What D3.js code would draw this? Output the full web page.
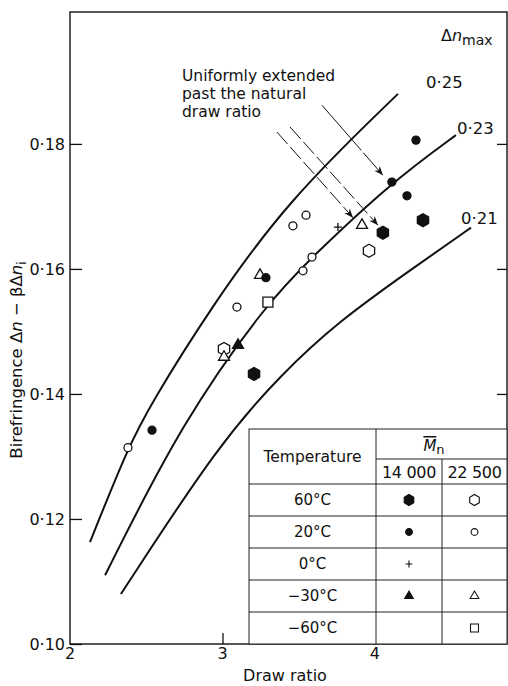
<!DOCTYPE html>
<html>
<head>
<meta charset="utf-8">
<script src="https://cdn.jsdelivr.net/npm/d3@7"></script>
<style>
  body { margin: 0; background: #fff; }
  svg text { font-family: "DejaVu Sans", sans-serif; fill: #111; }
</style>
</head>
<body>
<div id="chart"></div>
<script>
// axis ticks
var xTicks = [2, 3, 4];
var yTicks = [0.10, 0.12, 0.14, 0.16, 0.18];
var yTickLabels = ["0·10", "0·12", "0·14", "0·16", "0·18"];

// curves of constant max birefringence
var curveLabels = ["0·25", "0·23", "0·21"];
var curve25 = [[2.131, 0.1163], [2.380, 0.1314], [2.525, 0.1382], [2.925, 0.1539], [3.430, 0.1710], [4.151, 0.1880]];
var curve23 = [[2.230, 0.1110], [2.741, 0.1358], [3.298, 0.1547], [3.587, 0.1619], [4.111, 0.1739], [4.531, 0.1814]];
var curve21 = [[2.334, 0.1080], [2.984, 0.1323], [3.397, 0.1434], [3.751, 0.1514], [4.230, 0.1598], [4.630, 0.1666]];

// measured points, by temperature / Mn
var hexFilled = [[3.207, 0.1432], [4.052, 0.1658], [4.315, 0.1678]];          // 60C, 14000
var hexOpen = [[3.010, 0.1472], [3.961, 0.1629]];                              // 60C, 22500
var dotFilled = [[2.538, 0.1342], [3.285, 0.1586], [4.111, 0.1739], [4.210, 0.1717], [4.269, 0.1806]]; // 20C, 14000
var dotOpen = [[2.380, 0.1314], [3.095, 0.1539], [3.528, 0.1597], [3.587, 0.1619], [3.462, 0.1669], [3.548, 0.1686]]; // 20C, 22500
var plusPts = [[3.757, 0.1667]];                                               // 0C, 14000
var triFilled = [[3.102, 0.1478]];                                             // -30C, 14000
var triOpen = [[3.010, 0.1459], [3.246, 0.1590], [3.915, 0.1670]];            // -30C, 22500
var squareOpen = [[3.298, 0.1547]];                                            // -60C, 22500

// annotation arrows [from, to]
var arrows = [
    [[3.652, 0.1862], [4.052, 0.1750], "solid"],
    [[3.357, 0.1819], [3.856, 0.1682], "dash"],
    [[3.443, 0.1827], [4.020, 0.1670], "dash"]
];

// legend table
var tempLabels = ["60°C", "20°C", "0°C", "−30°C", "−60°C"];
var mnLabels = ["14 000", "22 500"];
var legendSymbols = [["hexFilled", "hexOpen"], ["dotFilled", "dotOpen"], ["plus", null], ["triFilled", "triOpen"], [null, "squareOpen"]];

var width = 508, height = 686;
var pL = 70, pR = 507, pT = 12, pB = 644;

var svg = d3.select("#chart").append("svg")
    .attr("width", width)
    .attr("height", height);

var x = d3.scaleLinear().domain([2, 4.866]).range([pL, pR]);
var y = d3.scaleLinear().domain([0.10, 0.2011]).range([pB, pT]);

// frame
svg.append("rect")
    .attr("x", pL).attr("y", pT)
    .attr("width", pR - pL).attr("height", pB - pT)
    .attr("fill", "none").attr("stroke", "#111").attr("stroke-width", 1.4);

// y axis (ticks inward)
var yAxis = d3.axisRight(y).tickValues(yTicks).tickSize(12).tickFormat("");
svg.append("g").attr("transform", "translate(" + pL + ",0)").call(yAxis)
    .call(function(g) { g.select(".domain").remove(); })
    .selectAll("line").attr("stroke", "#111").attr("stroke-width", 1.3);

var yAxisR = d3.axisLeft(y).tickValues(yTicks.slice(1)).tickSize(10).tickFormat("");
svg.append("g").attr("transform", "translate(" + pR + ",0)").call(yAxisR)
    .call(function(g) { g.select(".domain").remove(); })
    .selectAll("line").attr("stroke", "#111").attr("stroke-width", 1.3);

svg.selectAll("text.ytick")
    .data(yTicks)
    .enter().append("text")
    .attr("class", "ytick")
    .attr("x", pL - 5)
    .attr("y", function(d) { return y(d) + 6; })
    .attr("text-anchor", "end")
    .style("font-size", "16px")
    .text(function(d, i) { return yTickLabels[i]; });

// x axis (ticks inward)
var xAxis = d3.axisTop(x).tickValues(xTicks.slice(1)).tickSize(11).tickFormat("");
svg.append("g").attr("transform", "translate(0," + pB + ")").call(xAxis)
    .call(function(g) { g.select(".domain").remove(); })
    .selectAll("line").attr("stroke", "#111").attr("stroke-width", 1.3);

svg.selectAll("text.xtick")
    .data(xTicks)
    .enter().append("text")
    .attr("class", "xtick")
    .attr("x", function(d) { return x(d); })
    .attr("y", pB + 15)
    .attr("text-anchor", "middle")
    .style("font-size", "16px")
    .text(function(d) { return d; });

svg.append("text")
    .attr("x", 285).attr("y", 681)
    .attr("text-anchor", "middle")
    .style("font-size", "16px")
    .text("Draw ratio");

var yl = svg.append("text")
    .attr("transform", "translate(22,360) rotate(-90)")
    .attr("text-anchor", "middle")
    .style("font-size", "16.5px");
yl.append("tspan").text("Birefringence  Δ");
yl.append("tspan").style("font-style", "italic").text("n");
yl.append("tspan").text(" − βΔ");
yl.append("tspan").style("font-style", "italic").text("n");
yl.append("tspan").attr("dy", 4).style("font-size", "12px").text("i");

// curves
var line = d3.line()
    .x(function(d) { return x(d[0]); })
    .y(function(d) { return y(d[1]); })
    .curve(d3.curveBasis);

svg.selectAll("path.curve")
    .data([curve25, curve23, curve21])
    .enter().append("path")
    .attr("class", "curve")
    .attr("d", line)
    .attr("fill", "none")
    .attr("stroke", "#111")
    .attr("stroke-width", 2);

var curveLabelPos = [[426, 88], [457, 134], [461, 224]];
svg.selectAll("text.clabel")
    .data(curveLabels)
    .enter().append("text")
    .attr("class", "clabel")
    .attr("x", function(d, i) { return curveLabelPos[i][0]; })
    .attr("y", function(d, i) { return curveLabelPos[i][1]; })
    .style("font-size", "16.5px")
    .text(function(d) { return d; });

var dn = svg.append("text").attr("x", 441).attr("y", 41).style("font-size", "16px");
dn.append("tspan").text("Δ");
dn.append("tspan").style("font-style", "italic").text("n");
dn.append("tspan").attr("dy", 4).style("font-size", "14px").text("max");

// annotation
var noteLines = ["Uniformly extended", "past the natural", "draw ratio"];
svg.selectAll("text.note")
    .data(noteLines)
    .enter().append("text")
    .attr("class", "note")
    .attr("x", 182)
    .attr("y", function(d, i) { return 81 + i * 18; })
    .style("font-size", "15.5px")
    .text(function(d) { return d; });

svg.append("defs").append("marker")
    .attr("id", "head")
    .attr("viewBox", "0 0 10 10")
    .attr("refX", 10).attr("refY", 5)
    .attr("markerWidth", 9).attr("markerHeight", 9)
    .attr("markerUnits", "userSpaceOnUse")
    .attr("orient", "auto")
    .append("path")
    .attr("d", "M0,1 L10,5 L0,9 L3,5 Z")
    .attr("fill", "#111");

svg.selectAll("line.arrow")
    .data(arrows)
    .enter().append("line")
    .attr("class", "arrow")
    .attr("x1", function(d) { return x(d[0][0]); })
    .attr("y1", function(d) { return y(d[0][1]); })
    .attr("x2", function(d) { return x(d[1][0]); })
    .attr("y2", function(d) { return y(d[1][1]); })
    .attr("stroke", "#111")
    .attr("stroke-width", 1)
    .attr("stroke-dasharray", function(d) { return d[2] === "dash" ? "16,4" : "60,3"; })
    .attr("marker-end", "url(#head)");

// symbols
function hexPath(r) {
    var pts = d3.range(6).map(function(k) {
        var a = Math.PI / 6 + k * Math.PI / 3;
        return [r * Math.cos(a), r * Math.sin(a)];
    });
    return "M" + pts.join("L") + "Z";
}
function triPath(s) {
    var h = s * Math.sqrt(3) / 2;
    return "M0," + (-h * 2 / 3) + "L" + (s / 2) + "," + (h / 3) + "L" + (-s / 2) + "," + (h / 3) + "Z";
}
var symbolDefs = {
    hexFilled: { d: hexPath(6.5), fill: "#111" },
    hexOpen: { d: hexPath(6.5), fill: "#fff" },
    dotFilled: { d: d3.symbol(d3.symbolCircle, Math.PI * 16)(), fill: "#111" },
    dotOpen: { d: d3.symbol(d3.symbolCircle, Math.PI * 16)(), fill: "#fff" },
    plus: { d: "M-4,0L4,0M0,-4L0,4", fill: "none" },
    triFilled: { d: triPath(11), fill: "#111" },
    triOpen: { d: triPath(11), fill: "#fff" },
    squareOpen: { d: "M-5,-5L5,-5L5,5L-5,5Z", fill: "#fff" }
};

function drawSymbols(name, data) {
    var def = symbolDefs[name];
    svg.selectAll("path.pt-" + name)
        .data(data)
        .enter().append("path")
        .attr("class", "pt-" + name)
        .attr("transform", function(d) { return "translate(" + x(d[0]) + "," + y(d[1]) + ")"; })
        .attr("d", def.d)
        .attr("fill", def.fill)
        .attr("stroke", "#111")
        .attr("stroke-width", 1.3);
}
drawSymbols("hexOpen", hexOpen);
drawSymbols("triOpen", triOpen);
drawSymbols("dotOpen", dotOpen);
drawSymbols("squareOpen", squareOpen);
drawSymbols("dotFilled", dotFilled);
drawSymbols("hexFilled", hexFilled);
drawSymbols("triFilled", triFilled);
drawSymbols("plus", plusPts);

// legend table
var tL = 249, tR = 507, tT = 429, c1 = 376, c2 = 442, hSub = 459;
var rowTops = [484, 516, 548, 580, 612, 644];
var tbl = svg.append("g");
tbl.append("rect").attr("x", tL).attr("y", tT).attr("width", tR - tL).attr("height", pB - tT)
    .attr("fill", "#fff").attr("stroke", "#222").attr("stroke-width", 1);
tbl.append("line").attr("x1", c1).attr("x2", c1).attr("y1", tT).attr("y2", pB)
    .attr("stroke", "#222");
tbl.append("line").attr("x1", c2).attr("x2", c2).attr("y1", hSub).attr("y2", pB)
    .attr("stroke", "#222");
tbl.append("line").attr("x1", c1).attr("x2", tR).attr("y1", hSub).attr("y2", hSub)
    .attr("stroke", "#222");
tbl.selectAll("line.row")
    .data(rowTops.slice(0, 5))
    .enter().append("line")
    .attr("class", "row")
    .attr("x1", tL).attr("x2", tR)
    .attr("y1", function(d) { return d; }).attr("y2", function(d) { return d; })
    .attr("stroke", "#222");

tbl.append("text").attr("x", (tL + c1) / 2).attr("y", 462)
    .attr("text-anchor", "middle").style("font-size", "15.5px").text("Temperature");

var mn = tbl.append("text").attr("x", 434).attr("y", 451)
    .attr("text-anchor", "middle").style("font-size", "15px");
mn.append("tspan").style("font-style", "italic").style("text-decoration", "overline").text("M");
mn.append("tspan").attr("dy", 3).style("font-size", "13px").text("n");

var colCenters = [(c1 + c2) / 2, (c2 + tR) / 2];
tbl.selectAll("text.mn")
    .data(mnLabels)
    .enter().append("text")
    .attr("class", "mn")
    .attr("x", function(d, i) { return colCenters[i]; })
    .attr("y", 478)
    .attr("text-anchor", "middle")
    .style("font-size", "16px")
    .style("letter-spacing", "-0.3px")
    .text(function(d) { return d; });

tbl.selectAll("text.temp")
    .data(tempLabels)
    .enter().append("text")
    .attr("class", "temp")
    .attr("x", (tL + c1) / 2)
    .attr("y", function(d, i) { return (rowTops[i] + rowTops[i + 1]) / 2 + 5; })
    .attr("text-anchor", "middle")
    .style("font-size", "15px")
    .text(function(d) { return d; });

legendSymbols.forEach(function(row, i) {
    row.forEach(function(name, j) {
        if (!name) return;
        var def = symbolDefs[name];
        var s = (name === "squareOpen" || name.indexOf("tri") === 0) ? 0.8 : 0.85;
        tbl.append("path")
            .attr("transform", "translate(" + colCenters[j] + "," + (rowTops[i] + rowTops[i + 1]) / 2 + ") scale(" + s + ")")
            .attr("d", def.d)
            .attr("fill", def.fill)
            .attr("stroke", "#111")
            .attr("stroke-width", 1.3);
    });
});
</script>
</body>
</html>
